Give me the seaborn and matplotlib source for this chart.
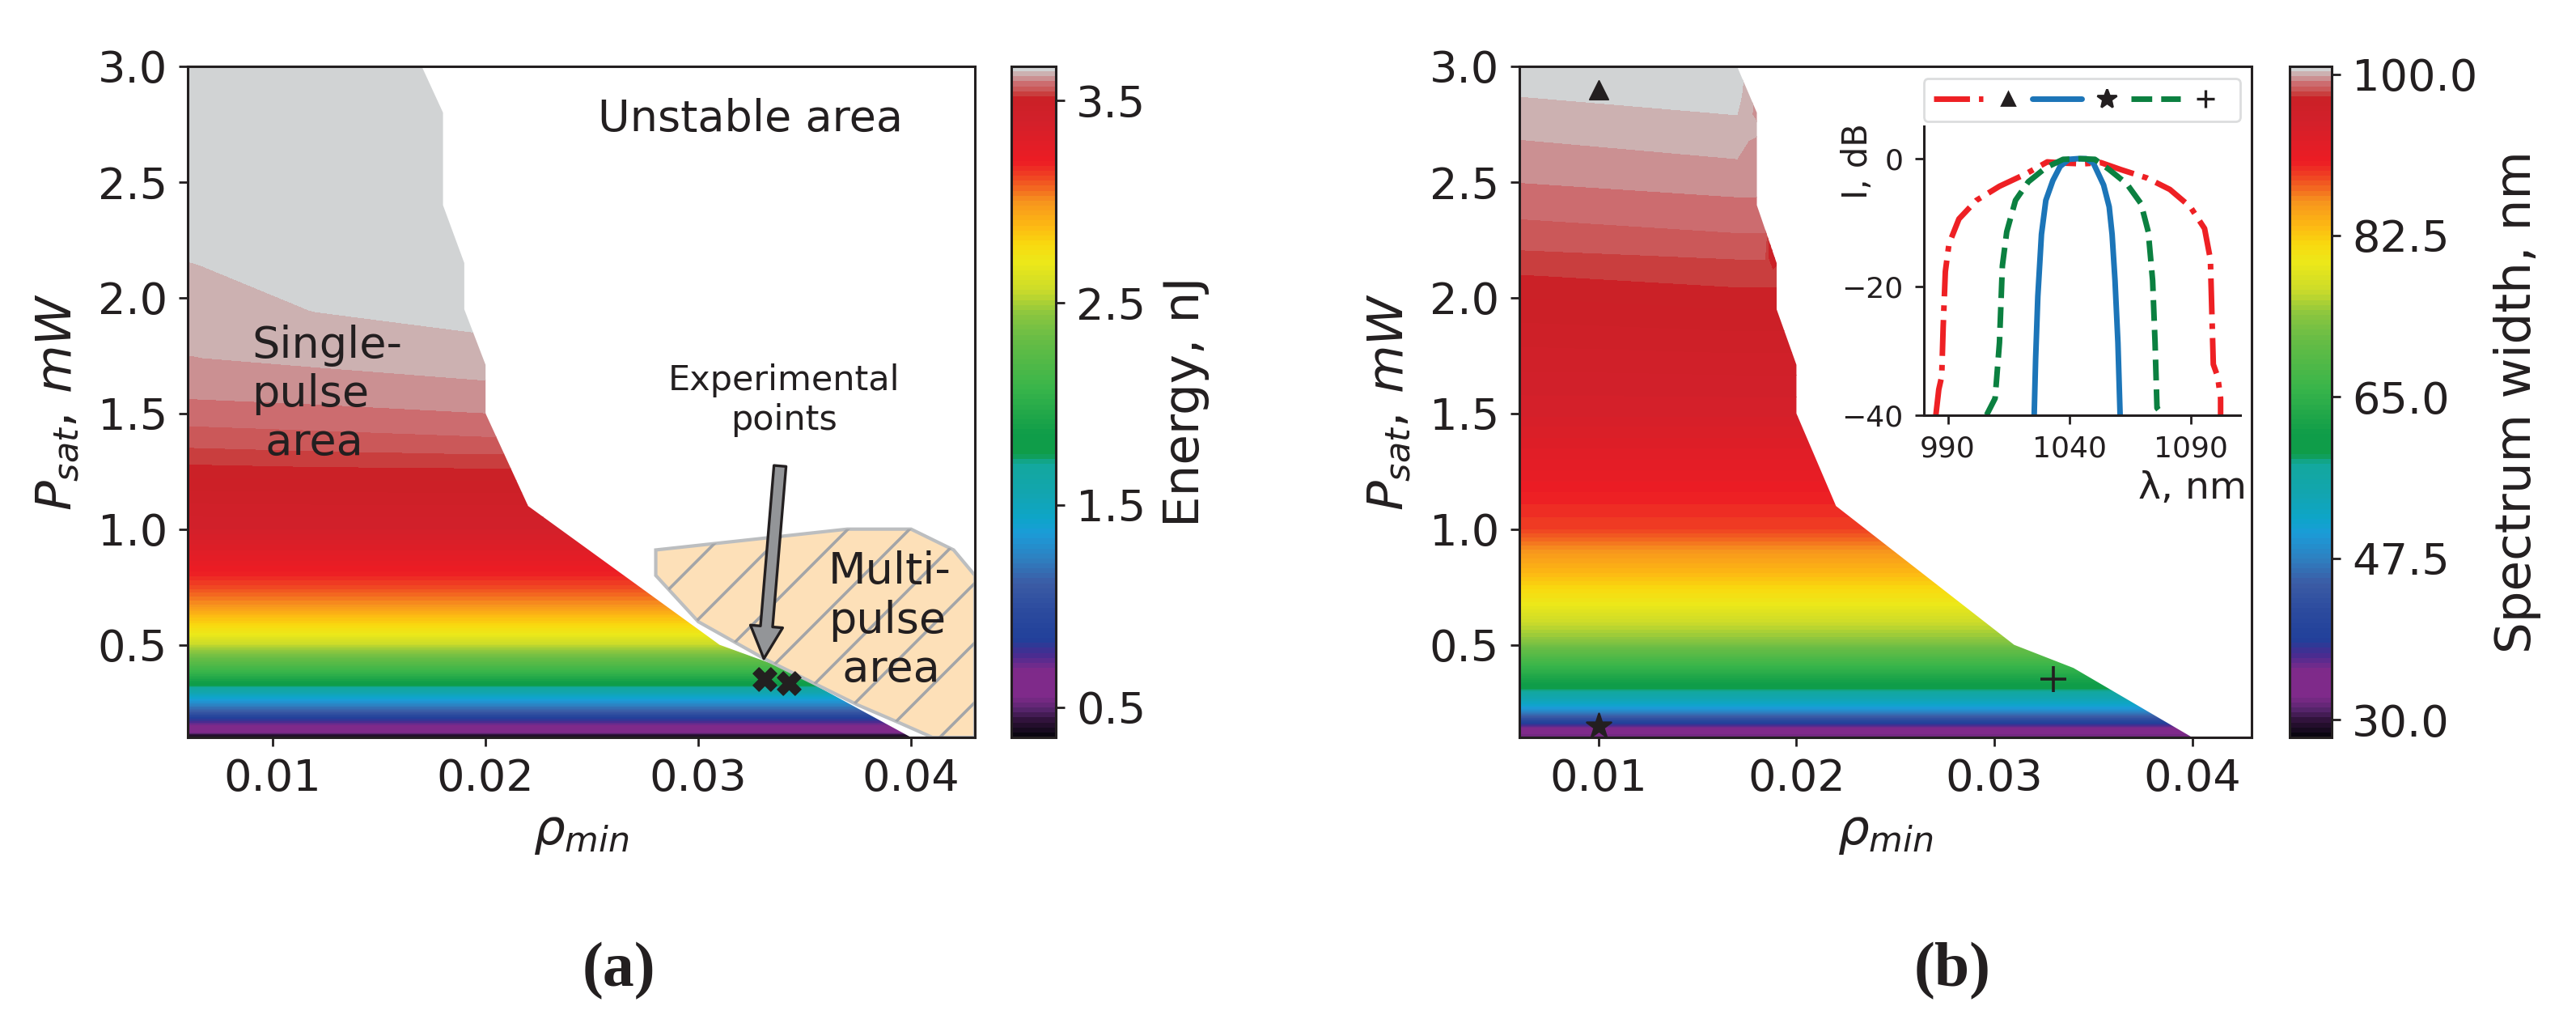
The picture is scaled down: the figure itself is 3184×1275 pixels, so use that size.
import numpy as np
import seaborn as sns
import matplotlib.pyplot as plt
from matplotlib.colors import LinearSegmentedColormap
from matplotlib.lines import Line2D
from matplotlib.patches import Polygon

# stable region border, same for both maps
border_rho = [0.006, 0.017, 0.018, 0.018, 0.019, 0.019, 0.02, 0.02, 0.022, 0.031, 0.034, 0.04, 0.006]
border_psat = [3.0, 3.0, 2.8, 2.4, 2.15, 1.95, 1.71, 1.5, 1.1, 0.5, 0.4, 0.1, 0.1]

# colour scale (a)
scale_stops = [0.35, 0.36, 0.43, 0.49, 0.55, 0.68, 0.76, 0.83, 0.97, 1.11, 1.23, 1.36, 1.43, 1.55, 1.7, 1.75,
               1.85, 2.08, 2.33, 2.45, 2.56, 2.7, 2.79, 2.88, 3.0, 3.13, 3.2, 3.4, 3.51, 3.534, 3.559, 3.583,
               3.608, 3.6325, 3.6575, 3.67]
scale_colors = ["#000000", "#0a0510", "#2e1238", "#5a2670", "#7f2a8a", "#7f2a8a", "#472c90", "#21409a", "#2b4a9e",
                "#3b5ba5", "#2e7fc0", "#1b9cd8", "#0ea5c9", "#12a5b0", "#13a89e", "#0f9d49",
                "#0f9d49", "#39b54a", "#6abd45", "#8dc63f", "#cbdb2a", "#ece819", "#f9d90f", "#fdb913", "#f7941d",
                "#ef4023", "#ed1c24", "#d2202a", "#cb2026", "#c93b3b", "#cb5858", "#cc686b",
                "#cb8b8d", "#ccaeae", "#d1d3d4", "#d1d3d4"]

# panel (a): pulse energy on a coarse table
rho_a = [0.006, 0.012, 0.02, 0.043]
psat_a = [0.1, 0.114, 0.12, 0.15, 0.182, 0.213, 0.262, 0.308, 0.322, 0.336, 0.385, 0.461, 0.503, 0.545, 0.626,
          0.668, 0.76, 0.815, 1.0, 1.28, 1.353, 1.444, 1.563, 1.74, 1.85, 1.945, 2.14, 3.0]
energy_low = [0.38, 0.45, 0.55, 0.68, 0.83, 1.11, 1.36, 1.65, 1.75, 1.85, 2.08, 2.4, 2.56, 2.7, 2.88,
              3.0, 3.13, 3.2, 3.4]
energy_left = energy_low + [3.522, 3.547, 3.571, 3.596, 3.62, 3.627, 3.632, 3.645, 3.665]
energy_mid = energy_low + [3.527, 3.552, 3.576, 3.601, 3.6265, 3.636, 3.646, 3.649, 3.666]
energy_right = energy_low + [3.53, 3.558, 3.584, 3.609, 3.635, 3.646, 3.648, 3.652, 3.668]

# panel (b): spectrum width
rho_b = [0.006, 0.017, 0.018, 0.0184, 0.0188, 0.02, 0.043]
psat_b = [0.1, 0.13, 0.16, 0.19, 0.228, 0.29, 0.33, 0.41, 0.525, 0.595, 0.675, 0.745, 0.807, 0.91, 1.0, 1.15,
          1.5, 2.045, 2.1, 2.166, 2.206, 2.28, 2.34, 2.435, 2.497, 2.6, 2.68, 2.72, 2.79, 2.87, 3.0]
width_low = [31.5, 33.5, 38.6, 44.7, 50.2, 56.6, 60.9, 66.0, 74.1, 76.5, 79.6, 81.55, 83.5, 86.2, 89.0, 90.5, 94.5]
width_left = width_low + [97.3, 97.6, 97.94, 98.14, 98.44, 98.68, 99.0, 99.22, 99.52, 99.75, 99.87, 100.07, 100.3, 100.6]
width_right = width_low + [97.6, 97.85, 98.14, 98.33, 98.68, 98.89, 99.22, 99.44, 99.76, 99.99, 100.1, 100.3, 100.5, 100.75]
# odd bits along the border of the map
width_018 = width_low + [97.6, 97.85, 98.14, 98.33, 98.68, 98.89, 99.22, 99.44, 99.5, 99.6, 100.0, 99.6, 99.6, 99.6]
width_0188 = width_low + [97.6, 97.85, 97.0, 96.5, 96.5, 98.89, 99.22, 99.44, 99.76, 99.99, 100.1, 100.3, 100.5, 100.75]

# multi-pulse area outline and its hatch lines
multi_rho = [0.028, 0.037, 0.04, 0.042, 0.043, 0.043, 0.041, 0.0394, 0.0375, 0.0331, 0.03, 0.028]
multi_psat = [0.91, 1.0, 1.0, 0.91, 0.8, 0.1, 0.1, 0.165, 0.24, 0.44, 0.6, 0.8]
hatch_rho = [0.0422, 0.0394, 0.0366, 0.0338, 0.031, 0.0281, 0.0253, 0.0225, 0.0197]

exp_rho = [0.0331, 0.03424]
exp_psat = [0.353, 0.335]

# inset spectra
red_nm = [985.1, 986.3, 987.5, 988.1, 989, 990.5, 994.6, 1001.8, 1011.3, 1022, 1031, 1038.7, 1045.8, 1053, 1061.3,
          1072, 1081.5, 1089.9, 1095.8, 1098.2, 1098.8, 1099.4, 1101.2, 1102.4, 1102.4]
red_db = [-40, -36, -34, -26.3, -17.6, -13.3, -9.4, -6.5, -4.3, -2.4, -0.5, -0.7, -0.8, -0.6, -1.7,
          -3, -4.8, -7.5, -10.9, -15.7, -23.9, -32.1, -34, -37.4, -40]
blue_nm = [1025.6, 1026.2, 1027.1, 1028.6, 1030.4, 1033.3, 1036.3, 1039.9, 1043.5, 1047, 1050, 1054.2, 1056.5,
           1057.7, 1058.9, 1060.1, 1061]
blue_db = [-40, -31.2, -21.5, -11.8, -6.5, -3.4, -1.2, -0.1, 0, 0, -0.7, -4.1, -7.5, -11.8, -19, -28.7, -40]
green_nm = [1006, 1009.5, 1011.3, 1012.5, 1014.3, 1017.9, 1023.2, 1030.4, 1037.5, 1044.6, 1050.6, 1056.5, 1063.7,
            1069.6, 1072.6, 1074.4, 1075.4, 1076.2, 1078.6]
green_db = [-40, -37.4, -28.7, -16.7, -11.4, -6.5, -3.6, -1.4, -0.1, 0, -0.1, -1.7, -3.9, -7, -11.4, -19, -28.7,
            -38.9, -40]

DARK = "#231f20"
W, H = 3184, 1275

sns.set_style("ticks")
plt.rcParams.update({
    "font.family": "DejaVu Sans",
    "text.color": DARK, "axes.labelcolor": DARK, "axes.edgecolor": DARK,
    "xtick.color": DARK, "ytick.color": DARK,
    "axes.linewidth": 1.1,
    "xtick.major.size": 4, "ytick.major.size": 4,
    "xtick.major.width": 1, "ytick.major.width": 1,
    "xtick.major.pad": 5, "ytick.major.pad": 5,
    "xtick.labelsize": 19.5, "ytick.labelsize": 19.5,
    "axes.labelsize": 22,
})


def add_axes(fig, left, top, right, bottom):
    return fig.add_axes([left / W, 1 - bottom / H, (right - left) / W, (bottom - top) / H])


def make_cmap():
    lo, hi = scale_stops[0], scale_stops[-1]
    pos = [(v - lo) / (hi - lo) for v in scale_stops]
    return LinearSegmentedColormap.from_list("spectral_bands", list(zip(pos, scale_colors)), N=1024)


def draw_map(ax, cax, rho, psat, columns, vmin, vmax, ticks, fmt, label):
    z = np.column_stack(columns)
    levels = np.linspace(vmin, vmax, 136)
    cs = ax.contourf(rho, psat, z, levels=levels, cmap=make_cmap(), zorder=1)
    clip = Polygon(list(zip(border_rho, border_psat)), closed=True, transform=ax.transData,
                   facecolor="none", edgecolor="none")
    ax.add_patch(clip)
    cs.set_clip_path(clip)

    ax.set_xlim(0.006, 0.043)
    ax.set_ylim(0.1, 3.0)
    ax.set_xticks([0.01, 0.02, 0.03, 0.04])
    ax.set_yticks([0.5, 1.0, 1.5, 2.0, 2.5, 3.0])
    ax.set_xlabel(r"$\rho_{min}$", labelpad=4)
    ax.set_ylabel(r"$P_{sat},\, mW$", labelpad=7)

    cbar = ax.figure.colorbar(cs, cax=cax, ticks=ticks, format=fmt)
    cbar.outline.set_linewidth(1.1)
    cbar.set_label(label, fontsize=22, labelpad=7)
    return cbar


fig = plt.figure(figsize=(W / 200, H / 200), dpi=200)

# ---- panel (a)
ax_a = add_axes(fig, 232, 82, 1205, 911)
cax_a = add_axes(fig, 1250, 82, 1305, 911)
draw_map(ax_a, cax_a, rho_a, psat_a, [energy_left, energy_mid, energy_right, energy_right], 0.35, 3.67,
         [0.5, 1.5, 2.5, 3.5], "%.1f", "Energy, nJ")

multi = Polygon(list(zip(multi_rho, multi_psat)), closed=True, facecolor="#fde0b8", edgecolor="#bcbec0",
                linewidth=1.5, zorder=2)
ax_a.add_patch(multi)
for r in hatch_rho:
    hl = ax_a.axline((r, 0.178), slope=92, color="#a3a5a8", linewidth=1.3, zorder=2.5)
    hl.set_clip_path(multi)

sns.scatterplot(x=exp_rho, y=exp_psat, marker="X", s=110, color=DARK, edgecolor=DARK, linewidth=0.5, ax=ax_a,
                legend=False, zorder=4)
ax_a.annotate("", xy=(0.03308, 0.44), xytext=(0.03384, 1.273), zorder=5,
              arrowprops=dict(width=5.4, headwidth=14.4, headlength=14.4, facecolor="#939598", edgecolor=DARK,
                              linewidth=1.2, shrink=0))

ax_a.text(0.03243, 2.773, "Unstable area", fontsize=19.5, ha="center", va="center")
ax_a.text(0.00901, 1.584, "Single-\npulse\n area", fontsize=19.5, ha="left", va="center")
ax_a.text(0.03403, 1.556, "Experimental\npoints", fontsize=15.5, ha="center", va="center")
ax_a.text(0.03612, 0.605, "Multi-\npulse\n area", fontsize=19.5, ha="left", va="center", zorder=6)

# ---- panel (b)
ax_b = add_axes(fig, 1878, 82, 2783, 911)
cax_b = add_axes(fig, 2830, 82, 2882, 911)
draw_map(ax_b, cax_b, rho_b, psat_b,
         [width_left, width_right, width_018, width_right, width_0188, width_right, width_right],
         28.07, 100.84, [30.0, 47.5, 65.0, 82.5, 100.0], "%.1f", "Spectrum width, nm")

sns.scatterplot(x=[0.01], y=[2.9], marker="^", s=70, color=DARK, edgecolor=DARK, ax=ax_b, legend=False, zorder=4)
sns.scatterplot(x=[0.01], y=[0.15], marker="*", s=130, color=DARK, edgecolor=DARK, ax=ax_b, legend=False, zorder=4)
sns.scatterplot(x=[0.033], y=[0.353], marker="+", s=130, color=DARK, linewidth=1.3, ax=ax_b, legend=False, zorder=4)

# ---- inset with the spectra
ax_in = add_axes(fig, 2377.5, 155.7, 2769, 512.7)
ax_in.patch.set_alpha(0)
sns.lineplot(x=red_nm, y=red_db, color="#ee2024", linestyle="-.", linewidth=2.5, sort=False, estimator=None, ax=ax_in)
sns.lineplot(x=blue_nm, y=blue_db, color="#1c75b8", linestyle="-", linewidth=2.5, sort=False, estimator=None, ax=ax_in)
sns.lineplot(x=green_nm, y=green_db, color="#0b8040", linestyle="--", linewidth=2.5, sort=False, estimator=None, ax=ax_in)
ax_in.set_xlim(980, 1110.5)
ax_in.set_ylim(-40, 5.1)
ax_in.set_xticks([990, 1040, 1090])
ax_in.set_yticks([-40, -20, 0])
ax_in.tick_params(labelsize=13)
sns.despine(ax=ax_in)
ax_in.set_xlabel("λ, nm", fontsize=17)
ax_in.set_ylabel("I, dB", fontsize=15)
ax_in.xaxis.set_label_coords(0.85, -0.253, transform=ax_in.transAxes)
ax_in.xaxis.label.set_verticalalignment("center")
ax_in.yaxis.set_label_coords(-0.208, 0.879, transform=ax_in.transAxes)
ax_in.yaxis.label.set_verticalalignment("center")

handles = [
    Line2D([], [], color="#ee2024", linestyle="-.", linewidth=2.5),
    Line2D([], [], color=DARK, linestyle="None", marker="^", markersize=6),
    Line2D([], [], color="#1c75b8", linestyle="-", linewidth=2.5),
    Line2D([], [], color=DARK, linestyle="None", marker="*", markersize=9),
    Line2D([], [], color="#0b8040", linestyle="--", linewidth=2.5),
    Line2D([], [], color=DARK, linestyle="None", marker="+", markersize=8, markeredgewidth=1.2),
]
leg = ax_in.legend(handles, [""] * 6, ncol=6, mode="expand", loc="lower left", bbox_to_anchor=(0, 1.016, 1, 0.157),
                   borderaxespad=0, fontsize=10, handlelength=2.2, handletextpad=0, columnspacing=0, numpoints=1,
                   frameon=True, framealpha=1, edgecolor="#dcddde", borderpad=0.45)
leg.get_frame().set_linewidth(1)

# subfigure captions
fig.text(765 / W, 1 - 1200 / H, "(a)", fontsize=28, fontweight="bold", family="Liberation Serif", ha="center", va="center")
fig.text(2413 / W, 1 - 1200 / H, "(b)", fontsize=28, fontweight="bold", family="Liberation Serif", ha="center", va="center")

fig.savefig("out.png", dpi=200)
